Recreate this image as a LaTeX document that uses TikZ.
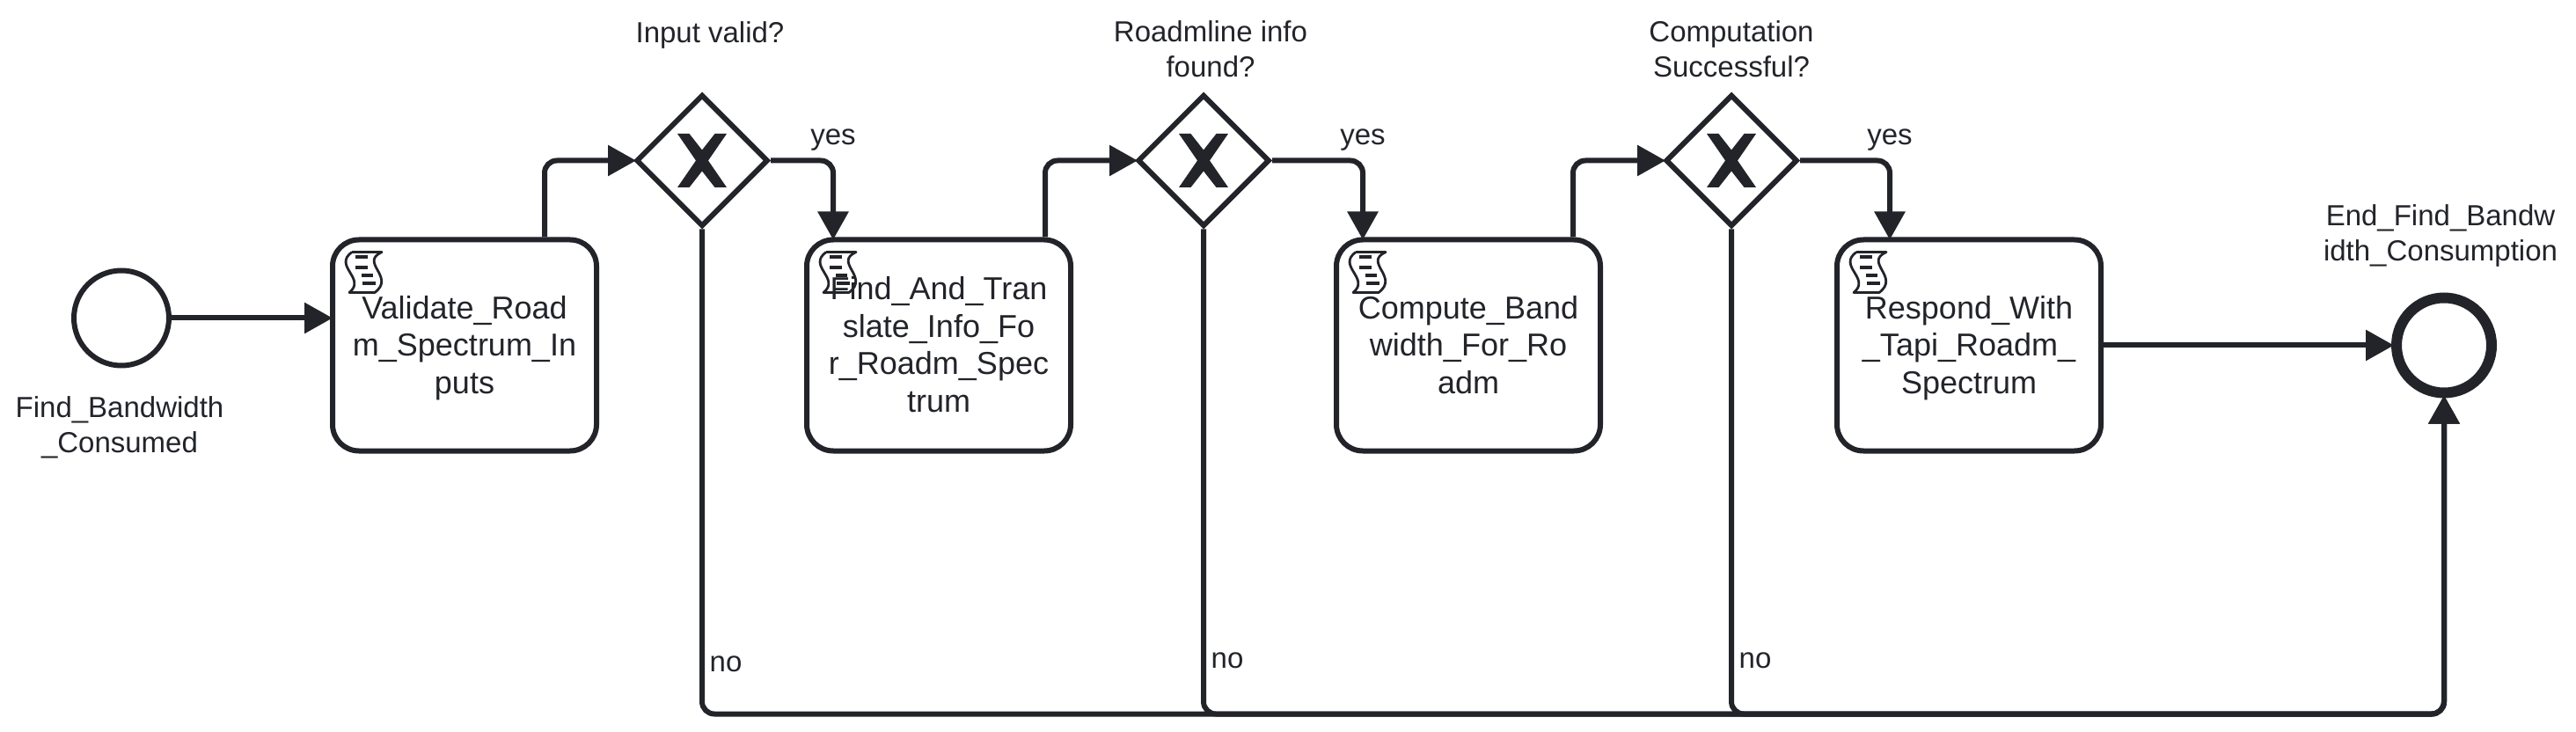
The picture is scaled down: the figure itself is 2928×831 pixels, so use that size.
\documentclass[tikz,border=0pt]{standalone}
\usepackage{xcolor}
\usepackage{fontspec}
\setmainfont{Liberation Sans}
\usetikzlibrary{arrows.meta, positioning, shapes.geometric}
\definecolor{ink}{HTML}{22242A}
\newcommand{\firstln}{\rule{0pt}{18.5pt}}
\tikzset{
  base/.style={draw=ink, text=ink, line width=3pt, fill=white},
  task/.style={base, rectangle, rounded corners=15pt, align=center, inner sep=0pt, minimum width=150pt, minimum height=120pt, font=\fontsize{18}{21.25}\selectfont},
  xor/.style={base, diamond, aspect=1, inner sep=0pt, minimum size=75pt},
  startev/.style={base, circle, inner sep=0pt, minimum size=54pt},
  endev/.style={base, circle, inner sep=0pt, minimum size=54pt, line width=6pt},
  lbl/.style={text=ink, align=center, inner sep=0pt, font=\fontsize{16.5}{20}\selectfont},
  line/.style={draw=ink, line width=3pt, rounded corners=7pt, shorten >=-1.5pt, -{Triangle[length=16pt,width=17pt]}},
  scriptmark/.pic={
    \draw[ink, line width=1.4pt, line join=round] (25,-17) -- (59,-17)
      .. controls (33,-29) and (75,-45) .. (51,-63) -- (22,-63)
      .. controls (42,-47) and (3,-33) .. (25,-17);
    \draw[ink, line width=2pt] (29,-23) -- (43,-23) (29,-35) -- (43,-35) (36,-44) -- (49,-44) (37,-53) -- (52,-53);
  },
  xmark/.pic={
    \fill[ink] (-28,30.5) -- (-14.5,30.5) -- (0,12) -- (14.5,30.5) -- (28,30.5) -- (7,0) -- (28,-30.5)
      -- (14.5,-30.5) -- (0,-12) -- (-14.5,-30.5) -- (-28,-30.5) -- (-7,0) -- cycle;
  }
}

\begin{document}
\begin{tikzpicture}[x=0.5pt, y=0.5pt]
    \useasboundingbox (0,0) rectangle (2928,831);
    \node[task] (validate) at (528,438.5) {\firstln Validate\_Road\\m\_Spectrum\_In\\puts\strut};
    \node[task, right=116.5pt of validate] (find) {\firstln Find\_And\_Tran\\slate\_Info\_Fo\\r\_Roadm\_Spec\\trum\strut};
    \node[task, right=148pt of find] (compute) {\firstln Compute\_Band\\width\_For\_Ro\\adm\strut};
    \node[task, right=131.5pt of compute] (respond) {\firstln Respond\_With\\\_Tapi\_Roadm\_\\Spectrum\strut};
    \node[startev, left=90pt of validate.west, yshift=15.5pt] (start) {};
    \node[endev, right=163.5pt of respond] (finish) {};
    \node[xor, above=4.5pt of validate.north, xshift=135pt] (gw1) {};
    \node[xor, above=4.5pt of find.north, xshift=150.5pt] (gw2) {};
    \node[xor, above=4.5pt of compute.north, xshift=149.5pt] (gw3) {};
    \coordinate[below=179.5pt of finish.south] (bottom);

    \node[lbl, below=16pt of start, xshift=-1pt] (startlbl) {Find\_Bandwidth\\\_Consumed};
    \node[lbl, above=14.5pt of finish, xshift=-2pt] (endlbl) {End\_Find\_Bandw\\idth\_Consumption};
    \node[lbl, above=24.5pt of gw1.north, xshift=4.5pt] (q1) {Input valid?};
    \node[lbl, above=8pt of gw2.north, xshift=4pt] (q2) {Roadmline info\\found?};
    \node[lbl, above=8pt of gw3.north] (q3) {Computation\\Successful?};

    \foreach \g in {gw1, gw2, gw3}
      \pic at (\g) {xmark};
    \foreach \t in {validate, find, compute, respond}
      \pic at (\t.north west) {scriptmark};

    \draw[line] (start) -- (validate.west |- start);
    \draw[line] ([xshift=45.5pt]validate.north) |- (gw1.west);
    \draw[line] (gw1.east) -| node[lbl, pos=0.5, yshift=11.5pt] {yes} ([xshift=-60pt]find.north);
    \draw[line] ([xshift=60.5pt]find.north) |- (gw2.west);
    \draw[line] (gw2.east) -| node[lbl, pos=0.5, yshift=11.5pt] {yes} ([xshift=-60pt]compute.north);
    \draw[line] ([xshift=59.5pt]compute.north) |- (gw3.west);
    \draw[line] (gw3.east) -| node[lbl, pos=0.5, yshift=11.5pt] {yes} ([xshift=-45pt]respond.north);
    \draw[line] (respond) -- (finish);
    \draw[line] (gw1.south) |- node[lbl, pos=0.5, xshift=13.5pt, yshift=28.5pt] {no} (bottom) -- (finish.south);
    \draw[line] (gw2.south) |- node[lbl, pos=0.5, xshift=13.5pt, yshift=30.5pt] {no} (bottom) -- (finish.south);
    \draw[line] (gw3.south) |- node[lbl, pos=0.5, xshift=13.5pt, yshift=30.5pt] {no} (bottom) -- (finish.south);
  \end{tikzpicture}
\end{document}
